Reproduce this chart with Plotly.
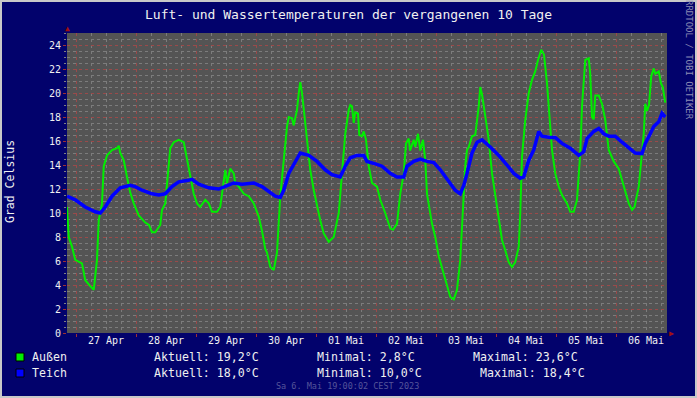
import plotly.graph_objects as go

# ---------------- data (hours since start of the 10-day window) ----------------
aussen_h = [0, 0.7, 2, 3.3, 6, 7.3, 9.3, 10.7, 12, 12.7, 14, 14.7, 16, 18, 20, 20.7, 21.3, 22.7,
            24, 25.3, 26.7, 28.7, 31.3, 32.8, 34, 35.3, 37.3, 38, 39.3, 40.4, 41.3, 42.7, 44.7,
            46.7, 48, 49.3, 50.7, 52, 53.3, 55.3, 56.7, 58, 60, 61.3, 62.7, 63.3, 64, 65.3, 66.7,
            67.3, 68.7, 70.7, 72.7, 74.7, 76.7, 78, 79.3, 80, 81.3, 82.7, 84, 85.3, 86.7, 88, 88.7,
            90, 90.7, 92, 92.7, 93.3, 94, 94.7, 96, 97.3, 98.7, 100, 101.3, 102.7, 104.7, 106.7,
            108.7, 110, 111.3, 112.7, 113.3, 114, 114.7, 115.3, 116.4, 116.9, 118, 118.7, 119.6,
            120.7, 122, 124, 125.3, 127.3, 129.3, 130.4, 132, 133.3, 134.7, 135.6, 136.7, 137.2,
            138.7, 139.3, 140.4, 141.3, 142.4, 143.3, 144, 146, 147.3, 148.7, 150.7, 152, 153.3,
            154.7, 156, 157.3, 158, 158.7, 159.3, 160, 160.7, 162, 163.3, 164.7, 165.3, 166, 167.3,
            168.7, 170, 171.3, 172.7, 174, 175.3, 176.7, 178, 179.3, 180.7, 181.3, 182, 183.3,
            184.7, 186, 187.3, 188.4, 189.7, 190.8, 192, 192.9, 194, 195.3, 196.7, 198, 200, 201.3,
            202.7, 204, 205.3, 206, 207.3, 208.7, 209.3, 210, 210.7, 211.3, 212.7, 214, 215.3,
            216.7, 218.7, 220.7, 222, 223.3, 224.7, 226, 227, 228.7, 229.7, 230.7, 231.3, 232,
            232.8, 233.7, 234.7, 235.3, 236.7, 237.6, 238.3, 239.3]
aussen_t = [10.5, 8.0, 7.2, 6.1, 5.8, 4.4, 3.9, 3.6, 6.1, 9.4, 10.8, 13.9, 14.8, 15.25, 15.4, 15.6,
            15.0, 14.4, 13.0, 11.7, 10.8, 9.8, 9.2, 9.0, 8.4, 8.4, 9.0, 10.25, 10.8, 13.0, 15.4,
            15.9, 16.1, 15.9, 14.4, 13.0, 11.6, 10.8, 10.5, 11.1, 10.8, 10.1, 10.1, 10.5, 13.0,
            13.6, 12.5, 13.7, 13.3, 12.5, 12.2, 11.6, 11.4, 10.8, 9.7, 8.5, 7.0, 6.7, 5.5, 5.25,
            6.7, 11.4, 14.4, 17.2, 18.0, 17.9, 17.3, 18.6, 20.0, 20.9, 20.0, 18.6, 15.8, 13.6,
            11.9, 10.5, 9.4, 8.3, 7.6, 8.0, 10.0, 13.3, 16.6, 18.6, 19.0, 18.9, 17.5, 18.4, 18.3,
            16.5, 16.4, 16.8, 16.1, 13.9, 12.5, 12.2, 11.1, 10.0, 8.7, 8.6, 9.1, 11.6, 13.3, 15.8,
            16.2, 15.2, 16.1, 15.5, 16.6, 15.2, 16.1, 14.4, 11.6, 9.1, 8.0, 6.4, 5.0, 3.9, 3.0,
            2.8, 3.6, 6.1, 9.0, 10.8, 13.9, 15.25, 15.5, 16.4, 16.5, 18.9, 20.5, 19.9, 18.0, 16.1,
            13.3, 11.4, 9.4, 7.75, 6.9, 5.9, 5.5, 5.9, 7.2, 10.0, 14.7, 17.75, 20.0, 21.1, 21.8,
            22.75, 23.6, 23.2, 20.8, 18.0, 15.25, 13.3, 12.2, 11.5, 10.8, 10.1, 10.1, 11.1, 15.0,
            18.9, 22.75, 22.9, 21.6, 18.0, 17.8, 19.8, 19.8, 19.1, 17.75, 15.25, 14.3, 13.7,
            12.75, 11.6, 10.8, 10.25, 10.5, 12.2, 14.4, 16.6, 19.1, 18.5, 19.0, 21.4, 22.05, 21.6,
            21.8, 20.8, 20.5, 19.2]

teich_h = [0, 3.3, 7.3, 11.3, 13.3, 15.3, 18, 21.3, 25.3, 27.3, 30, 34, 36.7, 39.3, 42, 44.7, 48,
           50, 52.7, 56.7, 60.7, 63.3, 66.7, 70, 74.7, 78, 80.7, 83.3, 85.3, 86.7, 88.7, 90.7,
           93.3, 96.7, 100, 103.3, 106, 109.3, 111.3, 113.3, 116, 118.7, 120, 123.3, 126, 129.3,
           132, 134.7, 136, 138.7, 141.3, 144, 146.7, 149.3, 152.7, 155.3, 157.3, 158.7, 160,
           162, 164, 166, 169.3, 172.7, 176, 178.7, 181.3, 182.7, 184.7, 186.7, 188.7, 190,
           193.3, 195.3, 198, 201.3, 204.7, 206.7, 208, 210.7, 212.7, 214.7, 216.7, 219.3, 222,
           224.7, 227.3, 230, 231.3, 233.3, 234.7, 236.7, 238, 239.3]
teich_t = [11.4, 11.1, 10.5, 10.1, 10.0, 10.5, 11.4, 12.1, 12.3, 12.2, 11.9, 11.6, 11.5, 11.6,
           12.2, 12.6, 12.7, 12.8, 12.4, 12.1, 12.0, 12.2, 12.5, 12.4, 12.5, 12.2, 11.8, 11.4,
           11.3, 11.9, 13.3, 14.0, 15.0, 14.8, 14.3, 13.6, 13.2, 13.0, 13.9, 14.6, 14.8, 14.8,
           14.3, 14.1, 13.9, 13.3, 13.0, 13.0, 13.9, 14.3, 14.5, 14.3, 14.2, 13.6, 12.6, 11.9,
           11.6, 12.3, 13.3, 15.0, 15.9, 16.1, 15.5, 14.8, 14.0, 13.3, 12.9, 13.0, 14.4, 15.25,
           16.8, 16.4, 16.3, 16.3, 15.8, 15.4, 14.8, 15.1, 16.2, 16.8, 17.05, 16.6, 16.4, 16.4,
           15.9, 15.4, 15.0, 14.95, 15.8, 16.6, 17.2, 17.6, 18.3, 18.0]

day_labels = ["27 Apr", "28 Apr", "29 Apr", "30 Apr", "01 Mai", "02 Mai",
              "03 Mai", "04 Mai", "05 Mai", "06 Mai"]
y_ticks = list(range(0, 25, 2))

title_text = "Luft- und Wassertemperaturen der vergangenen 10 Tage"
y_title = "Grad Celsius"
stamp_text = "Sa 6. Mai 19:00:02 CEST 2023"
side_text = "RRDTOOL / TOBI OETIKER"
legend_rows = [
    ("Außen", "Aktuell: 19,2°C", "Minimal: 2,8°C", "Maximal: 23,6°C", "#00ee00"),
    ("Teich", "Aktuell: 18,0°C", "Minimal: 10,0°C", "Maximal: 18,4°C", "#0000ff"),
]

# ---------------- styling ----------------
W, H = 697, 398
L, R, T, B = 67, 30, 33, 65
PW, PH = W - L - R, H - T - B
NAVY = "#02026c"
PLOTBG = "#545454"
TXT = "#f0f0f0"
MONO = "DejaVu Sans Mono"
first_midnight = 3.6


def px(x):
    return (x - L) / PW


def py(y):
    return (H - B - y) / PH


fig = go.Figure()
fig.add_trace(go.Scatter(x=aussen_h, y=aussen_t, mode="lines", name="Außen",
                         line=dict(color="#00ee00", width=2), showlegend=False))
fig.add_trace(go.Scatter(x=teich_h, y=teich_t, mode="lines", name="Teich", xaxis="x2",
                         line=dict(color="#0000ff", width=3.5), showlegend=False))

label_pos = [first_midnight + 12 + 24 * i for i in range(len(day_labels))]

fig.update_layout(
    width=W, height=H, autosize=False,
    margin=dict(l=L, r=R, t=T, b=B),
    paper_bgcolor=NAVY, plot_bgcolor=PLOTBG,
    font=dict(family=MONO, color=TXT, size=10),
    xaxis=dict(range=[0, 240], tickmode="array", tickvals=label_pos, ticktext=day_labels,
               showgrid=False, zeroline=False, showline=False, ticks="",
               tickfont=dict(size=10, color=TXT),
               minor=dict(tick0=first_midnight, dtick=6, showgrid=True,
                          gridcolor="#7c7c7c", griddash="dot", gridwidth=1)),
    xaxis2=dict(overlaying="x", matches="x", range=[0, 240], tickmode="linear",
                tick0=first_midnight, dtick=24, showticklabels=False, showgrid=True,
                gridcolor="#9a4a4a", griddash="dot", gridwidth=1, zeroline=False,
                ticks="outside", ticklen=3, tickcolor="#a03030", side="bottom", anchor="y"),
    yaxis=dict(range=[0, 25], tickmode="array", tickvals=y_ticks,
               showgrid=True, gridcolor="#9a4a4a", griddash="dot", gridwidth=1,
               zeroline=False, showline=False, ticks="outside", ticklen=3,
               tickcolor="#a03030", tickfont=dict(size=10, color=TXT),
               minor=dict(dtick=0.5, showgrid=True, gridcolor="#7c7c7c",
                          griddash="dot", gridwidth=1, ticks="outside", ticklen=2,
                          tickcolor="#808080")),
)

ann = []
ann.append(dict(x=px(348), y=py(14), text=title_text, font=dict(size=13, color=TXT)))
ann.append(dict(x=px(10), y=py(182), text=y_title, textangle=-90,
                font=dict(size=11.5, color=TXT)))
ann.append(dict(x=px(347), y=py(386), text=stamp_text, font=dict(size=8.5, color="#55559a")))
ann.append(dict(x=px(689), y=py(60), text=side_text, textangle=90,
                font=dict(size=9, color="#8c8cb4")))
ann.append(dict(x=px(67), y=py(29), text="▲", font=dict(size=8, color="#a01010")))
ann.append(dict(x=px(671), y=py(333), text="▶", font=dict(size=8, color="#a01010")))

shapes = []
row_y = [357, 373]
col_x = [30, 152, 315]
max_x = [471, 478]
for i, (name, akt, mn, mx, col) in enumerate(legend_rows):
    yy = row_y[i]
    shapes.append(dict(type="rect", xref="paper", yref="paper",
                       x0=px(16), x1=px(24), y0=py(yy - 4), y1=py(yy + 4),
                       fillcolor=col, line=dict(color="black", width=1)))
    for txt, xx in ((name, col_x[0]), (akt, col_x[1]), (mn, col_x[2]), (mx, max_x[i])):
        ann.append(dict(x=px(xx), y=py(yy), text=txt, xanchor="left",
                        font=dict(size=11.6, color=TXT)))

# outer light frame
shapes.append(dict(type="rect", xref="paper", yref="paper",
                   x0=px(0), x1=px(W), y0=py(0), y1=py(H),
                   line=dict(color="#c8c8c8", width=4), fillcolor="rgba(0,0,0,0)"))

for a in ann:
    a.setdefault("xref", "paper")
    a.setdefault("yref", "paper")
    a.setdefault("xanchor", "center")
    a.setdefault("yanchor", "middle")
    a["showarrow"] = False
    a["font"]["family"] = MONO

fig.update_layout(annotations=ann, shapes=shapes)
fig.write_html("out.html", config={"displayModeBar": False},
               post_script="document.body.style.margin='0';document.body.style.overflow='hidden';")
